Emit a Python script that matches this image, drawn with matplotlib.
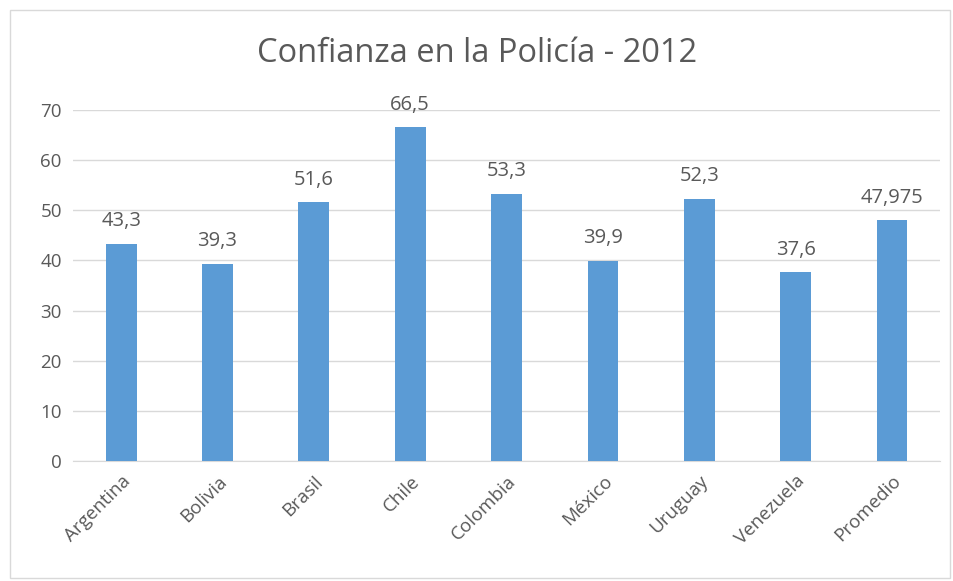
import matplotlib
matplotlib.use('Agg')
from matplotlib import pyplot as plt
from matplotlib.patches import Rectangle

# data
paises = ['Argentina', 'Bolivia', 'Brasil', 'Chile', 'Colombia',
          'México', 'Uruguay', 'Venezuela', 'Promedio']
confianza = [43.3, 39.3, 51.6, 66.5, 53.3, 39.9, 52.3, 37.6, 47.975]
etiquetas = ['43,3', '39,3', '51,6', '66,5', '53,3', '39,9', '52,3', '37,6', '47,975']

plt.rcParams['font.family'] = ['Open Sans', 'DejaVu Sans']
gris = '#595959'

fig = plt.figure(figsize=(9.54, 5.81), dpi=100)
ax = fig.add_axes([0.0765, 0.2065, 0.909, 0.6045])

x = range(len(paises))
bars = ax.bar(x, confianza, width=0.32, color='#5B9BD5', zorder=3)
for b, t in zip(bars, etiquetas):
    ax.annotate(t, (b.get_x() + b.get_width() / 2, b.get_height()),
                xytext=(0, 9), textcoords='offset points',
                ha='center', va='bottom', fontsize=14.5, color=gris)

ax.set_ylim(0, 70)
ax.set_xlim(-0.5, len(paises) - 0.5)
ax.set_yticks(range(0, 71, 10))
ax.yaxis.grid(True, color='#D9D9D9', linewidth=1, zorder=0)
ax.set_xticks(list(x))
ax.set_xticklabels(paises, rotation=45, ha='right', rotation_mode='anchor')
ax.tick_params(axis='both', length=0, labelsize=13.5, colors=gris, pad=8)
for s in ['top', 'right', 'left']:
    ax.spines[s].set_visible(False)
ax.spines['bottom'].set_color('#D9D9D9')

fig.text(0.5, 0.908, 'Confianza en la Policía - 2012', ha='center', va='center',
         fontsize=23.5, color=gris)

# chart border
fig.patches.append(Rectangle((0.0105, 0.005), 0.985, 0.978, transform=fig.transFigure,
                             fill=False, edgecolor='#D9D9D9', linewidth=1))

fig.savefig('out.png', dpi=100)
